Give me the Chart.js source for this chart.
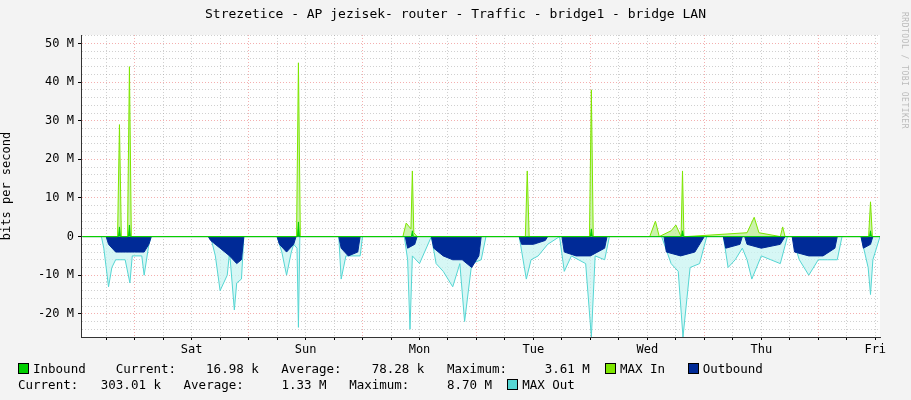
<!DOCTYPE html>
<html><head><meta charset="utf-8">
<script src="https://cdn.jsdelivr.net/npm/chart.js@4"></script>
<style>
body{margin:0;background:#f3f3f3;font-family:"DejaVu Sans Mono",monospace;}
#wrap{position:relative;width:911px;height:400px;}
#title{position:absolute;top:6px;left:0;width:911px;text-align:center;font-size:13px;color:#000;}
#side{position:absolute;right:2px;top:12px;writing-mode:vertical-rl;font-size:8px;color:#bbb;letter-spacing:0.5px;}
.lg{position:absolute;font-size:12.5px;white-space:pre;color:#000;}
.sw{display:inline-block;width:9px;height:9px;border:1px solid #000;vertical-align:-1px;margin-right:4px;}
canvas{position:absolute;left:0;top:0;}
</style></head><body>
<div id="wrap">
<canvas id="c" width="911" height="400"></canvas>
<div id="title">Strezetice - AP jezisek- router - Traffic - bridge1 - bridge LAN</div>
<div id="side">RRDTOOL / TOBI OETIKER</div>
<div class="lg" style="left:18px;top:361px"><span class="sw" style="background:#00cf00"></span>Inbound    Current:    16.98 k   Average:    78.28 k   Maximum:     3.61 M  <span class="sw" style="background:#7ee600"></span>MAX In   <span class="sw" style="background:#002a97"></span>Outbound</div>
<div class="lg" style="left:18px;top:377px">Current:   303.01 k   Average:     1.33 M   Maximum:     8.70 M  <span class="sw" style="background:#55d6d3"></span>MAX Out</div>
</div>
<script>
// hours relative to Sat 00:00, values in M bits/s
const dayLabels = ['Sat', 'Sun', 'Mon', 'Tue', 'Wed', 'Thu', 'Fri'];
const maxInHours = [-23, -15.6, -15.2, -14.8, -13.5, -13.1, -12.7, 22.1, 22.5, 22.9, 44.5, 45.2, 46.2, 46.5, 46.8, 47.5, 70.3, 70.7, 71.1, 83.8, 84.2, 84.6, 96.5, 97.7, 98.5, 101, 102, 103.1, 103.4, 103.7, 104.2, 117, 118.5, 119.5, 124, 124.5, 125, 142.6, 143, 143.4, 145];
const maxInVals  = [0, 0, 29, 0, 0, 44, 0, 0, 45, 0, 0, 3.5, 2, 17, 1, 0, 0, 17, 0, 0, 38, 0, 0, 4, 0, 1.5, 3, 0, 17, 0, 0, 1, 5, 1, 0, 2.5, 0, 0, 9, 0, 0];
const inHours = [-23, -15.4, -15.2, -15.0, -13.3, -13.1, -12.9, 22.3, 22.5, 22.7, 46.3, 46.5, 46.7, 84.0, 84.2, 84.4, 103.2, 103.4, 103.6, 142.8, 143, 143.2, 145];
const inVals  = [0, 0, 2.5, 0, 0, 3, 0, 0, 3.8, 0, 0, 1.5, 0, 0, 2, 0, 0, 1.5, 0, 0, 1.5, 0, 0];
const outHours = [-23, -18, -17.5, -16, -14, -12, -10, -9, -8.5, 3.5, 4, 6, 8, 9.5, 10.5, 11, 18, 18.5, 20, 21.5, 22, 31, 31.5, 33, 35, 35.5, 45, 45.5, 47, 47.5, 50.5, 51, 53, 55, 57, 59, 60.5, 61, 69, 69.5, 72, 74.5, 75, 78, 78.5, 81, 84, 87, 87.5, 99.5, 100, 103, 106, 108, 112, 112.5, 115.5, 116, 116.5, 117, 120, 124, 125, 126.5, 127, 130, 133, 135.5, 136, 141, 141.5, 143, 143.5, 145];
const outVals  = [0, 0, -2, -4, -4, -4, -4, -2, 0, 0, -1, -3, -5, -7, -6, 0, 0, -2, -4, -2, 0, 0, -3, -5, -4, 0, 0, -3, -2, 0, 0, -3, -5, -6, -6, -8, -5, 0, 0, -2, -2, -1, 0, 0, -4, -5, -5, -3, 0, 0, -4, -5, -4, 0, 0, -3, -2, 0, 0, -2, -3, -2, 0, 0, -4, -5, -5, -3, 0, 0, -3, -2, 0, 0];
const maxOutHours = [-23, -19, -18.5, -17.5, -16.8, -16, -14, -13, -12.5, -10.5, -10, -9, -8.5, 4, 5, 6, 7.5, 8, 9, 9.5, 10.5, 11, 18, 19, 20, 21, 21.5, 22.2, 22.5, 22.8, 31, 31.5, 32.5, 34, 35.5, 36, 44.8, 45.5, 46, 46.5, 48, 50.5, 51.5, 53, 55, 56.5, 57.5, 59, 61, 62, 69, 70.5, 71.5, 73, 75, 77.5, 78.5, 80, 83, 84.2, 85, 87, 88, 99, 101, 102.5, 103.5, 105, 107, 108.5, 112, 113, 114.5, 116, 117, 118, 120, 122, 124, 125.5, 126.5, 128, 130, 132, 134, 136, 137, 141, 142.5, 143, 143.5, 145];
const maxOutVals  = [0, 0, -3, -13, -8, -6, -6, -12, -5, -5, -10, -2, 0, 0, -5, -14, -10, -4, -19, -12, -11, 0, 0, -4, -10, -4, -2, -3, -23.5, 0, 0, -11, -5, -5, -5, 0, 0, -6, -24, -5, -7, 0, -7, -9, -13, -7, -22, -7, -6, 0, 0, -11, -6, -5, -2, 0, -9, -5, -7, -26, -5, -6, 0, 0, -7, -9, -26, -8, -7, 0, 0, -8, -6, -3, -6, -11, -5, -6, -7, 0, 0, -6, -10, -6, -6, -6, 0, 0, -8, -15, -6, 0];

const pts = (h, v) => h.map((x, i) => ({x, y: v[i]}));
const redGrid = 'rgba(235,110,110,0.55)', grayGrid = 'rgba(150,150,150,0.45)';

new Chart(document.getElementById('c'), {
  type: 'line',
  data: { datasets: [
    {label: 'MAX Out', order: 4, data: pts(maxOutHours, maxOutVals), borderColor: '#55d6d3', backgroundColor: 'rgba(200,244,242,0.75)', fill: 'origin', borderWidth: 1},
    {label: 'Outbound', order: 3, data: pts(outHours, outVals), borderColor: '#002a97', backgroundColor: '#002a97', fill: 'origin', borderWidth: 1},
    {label: 'MAX In', order: 2, data: pts(maxInHours, maxInVals), borderColor: '#7ee600', backgroundColor: 'rgba(190,240,150,0.8)', fill: 'origin', borderWidth: 1},
    {label: 'Inbound', order: 1, data: pts(inHours, inVals), borderColor: '#00cf00', backgroundColor: '#00cf00', fill: 'origin', borderWidth: 1}
  ]},
  options: {
    responsive: false, animation: false,
    elements: {point: {radius: 0}, line: {tension: 0}},
    layout: {padding: {top: 35, right: 31, bottom: 43, left: 0}},
    plugins: {legend: {display: false}, tooltip: {enabled: false}},
    scales: {
      x: {
        type: 'linear', min: -23.3, max: 145,
        afterBuildTicks: s => { const t = []; for (let h = -18; h <= 145; h += 6) t.push({value: h}); s.ticks = t; },
        afterFit: s => { s.height = 20; },
        ticks: {autoSkip: false, maxRotation: 0, color: '#000', font: {family: 'DejaVu Sans Mono', size: 12},
          callback: v => (v >= 0 && v % 24 === 0) ? dayLabels[v / 24] : ''},
        grid: {color: c => (((c.tick.value % 24) + 24) % 24 === 12) ? redGrid : grayGrid, tickColor: '#000', tickLength: 3, lineWidth: 1},
        border: {color: '#333', dash: [1, 2]}
      },
      y: {
        min: -26, max: 52.2,
        afterBuildTicks: s => { const t = []; for (let v = -24; v <= 52; v += 2) t.push({value: v}); s.ticks = t; },
        afterFit: s => { s.width = 81; },
        title: {display: true, text: 'bits per second', color: '#000', font: {family: 'DejaVu Sans Mono', size: 12}, padding: 0},
        ticks: {autoSkip: false, color: '#000', font: {family: 'DejaVu Sans Mono', size: 12}, padding: 4,
          callback: v => v % 10 === 0 ? (v === 0 ? '0' : v + ' M') : ''},
        grid: {color: c => c.tick.value % 10 === 0 ? redGrid : grayGrid, tickColor: c => c.tick.value % 10 === 0 ? '#000' : 'rgba(0,0,0,0)', tickLength: 3},
        border: {color: '#333', dash: [1, 2]}
      }
    }
  },
  plugins: [{id: 'bg', beforeDraw: ch => { const a = ch.chartArea, x = ch.ctx; x.save(); x.fillStyle = '#fff'; x.fillRect(a.left, a.top, a.right - a.left, a.bottom - a.top); x.restore(); }}]
});
</script>
</body></html>
